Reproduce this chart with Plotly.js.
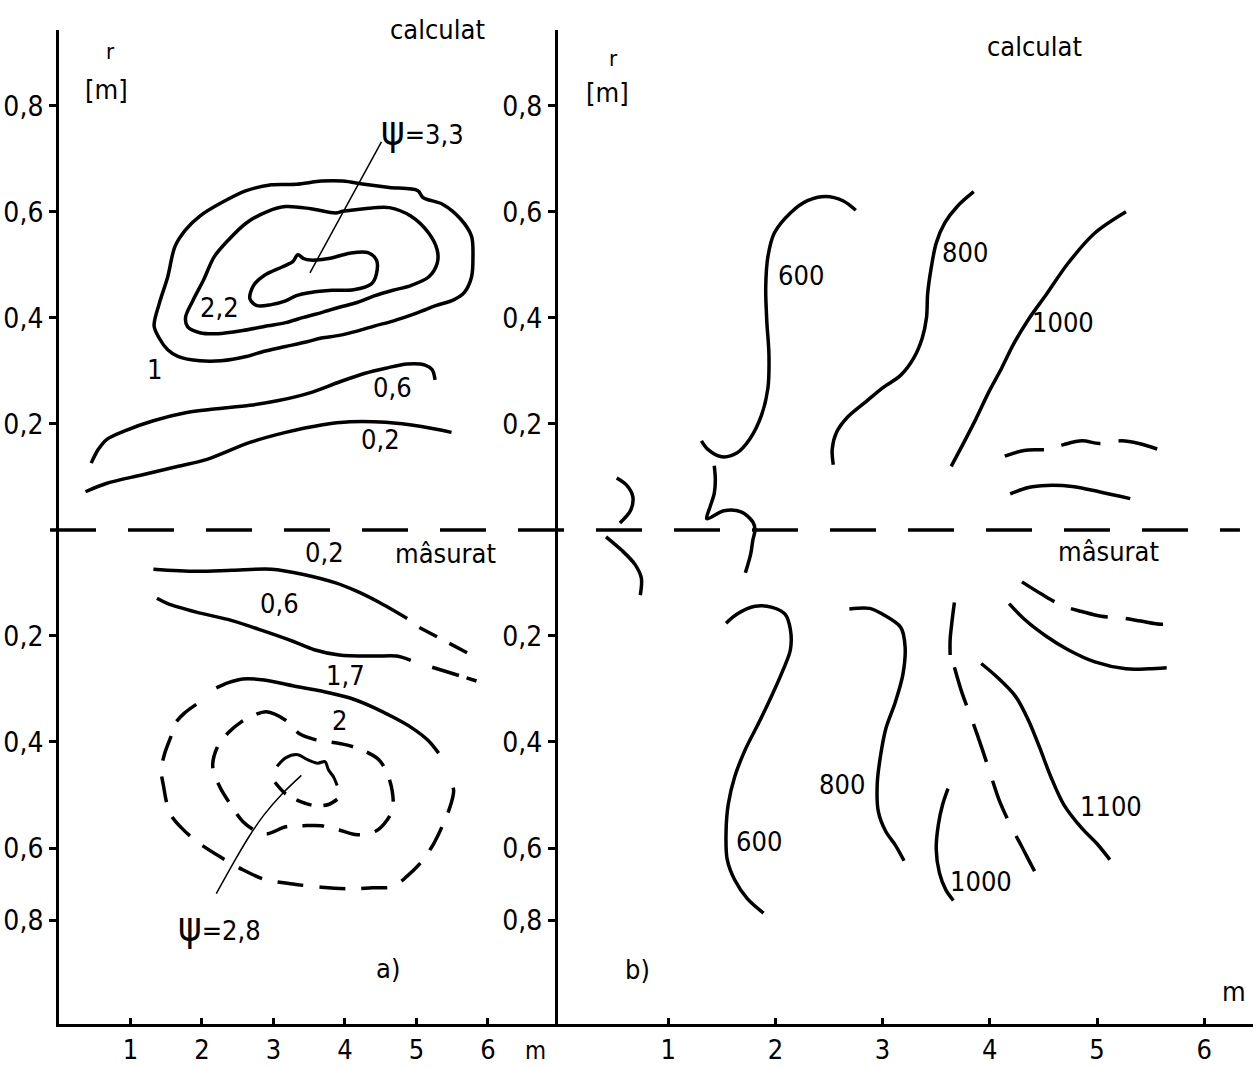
<!DOCTYPE html>
<html><head><meta charset="utf-8">
<script src="https://cdn.plot.ly/plotly-3.0.1.min.js"></script>
<style>html,body{margin:0;padding:0;background:#fff}</style>
</head><body><div id="chart" style="width:1253px;height:1068px"></div>
<script>
// ---------- axis ticks ----------
const rTickVals = [0.8, 0.6, 0.4, 0.2, -0.2, -0.4, -0.6, -0.736];
const rTickText = ['0,8', '0,6', '0,4', '0,2', '0,2', '0,4', '0,6', '0,8'];
const xTickVals = [1, 2, 3, 4, 5, 6];
const xTickText = ['1', '2', '3', '4', '5', '6'];

// ---------- panel a) calculat (r > 0) ----------
const aCalc1X = [1.33,1.40,1.52,1.62,1.77,1.97,2.27,2.62,2.97,3.32,3.67,3.97,4.27,4.62,5.02,5.09,5.37,5.62,5.77,5.79,5.77,5.67,5.52,5.27,5.02,4.67,4.42,4.17,3.92,3.67,3.47,3.17,2.87,2.62,2.27,1.97,1.67,1.52,1.40,1.33];
const aCalc1R = [0.385,0.426,0.477,0.534,0.566,0.592,0.617,0.640,0.651,0.652,0.658,0.658,0.652,0.646,0.640,0.627,0.614,0.586,0.554,0.515,0.477,0.448,0.434,0.423,0.410,0.394,0.385,0.375,0.367,0.362,0.355,0.346,0.337,0.327,0.319,0.319,0.327,0.340,0.362,0.385];
const aCalc22X = [1.77,1.87,2.02,2.17,2.37,2.62,2.92,3.17,3.52,3.87,3.97,4.27,4.62,4.92,5.17,5.29,5.29,5.17,4.92,4.67,4.42,4.17,3.92,3.67,3.42,3.17,2.92,2.57,2.22,1.97,1.80,1.77];
const aCalc22R = [0.401,0.432,0.471,0.515,0.547,0.579,0.601,0.610,0.606,0.598,0.601,0.606,0.608,0.592,0.560,0.528,0.503,0.477,0.461,0.452,0.442,0.429,0.420,0.410,0.401,0.391,0.385,0.376,0.370,0.372,0.383,0.401];
const aCalc33X = [2.67,2.72,2.87,3.12,3.27,3.34,3.42,3.52,3.77,4.07,4.32,4.44,4.44,4.37,4.12,3.82,3.52,3.32,3.17,2.97,2.77,2.67];
const aCalc33R = [0.436,0.461,0.480,0.496,0.506,0.519,0.512,0.509,0.512,0.522,0.523,0.509,0.483,0.464,0.453,0.452,0.448,0.442,0.432,0.425,0.423,0.436];
const aLeader33X = [3.51, 4.51];
const aLeader33R = [0.485, 0.732];
const aCalc06X = [0.45,0.55,0.67,0.92,1.32,1.77,2.17,2.67,3.07,3.52,3.92,4.27,4.57,4.87,5.12,5.22,5.26];
const aCalc06R = [0.126,0.152,0.171,0.187,0.206,0.221,0.228,0.235,0.244,0.259,0.279,0.295,0.305,0.313,0.311,0.302,0.283];
const aCalc02X = [0.37,0.67,1.17,1.67,2.07,2.67,3.17,3.67,4.07,4.57,5.07,5.49];
const aCalc02R = [0.072,0.088,0.104,0.120,0.133,0.165,0.184,0.198,0.204,0.203,0.195,0.184];

// ---------- panel a) măsurat (r < 0 drawn downward) ----------
const aMeas02X = [1.32,1.92,2.42,2.97,3.42,3.87,4.17,4.47,4.87];
const aMeas02R = [-0.074,-0.078,-0.076,-0.074,-0.084,-0.100,-0.116,-0.136,-0.167];
const aMeas02DashX = [5.04, 5.84];
const aMeas02DashR = [-0.184, -0.241];
const aMeas06X = [1.37,1.52,1.92,2.42,2.87,3.27,3.57,3.92,4.42,4.72,4.92];
const aMeas06R = [-0.129,-0.139,-0.155,-0.171,-0.191,-0.210,-0.226,-0.236,-0.238,-0.238,-0.246];
const aMeas06DashX = [5.22, 5.84];
const aMeas06DashR = [-0.259, -0.285];
const aMeas2X = [2.20,2.37,2.57,2.87,3.27,3.67,4.07,4.42,4.67,4.92,5.17,5.31];
const aMeas2R = [-0.298,-0.288,-0.281,-0.283,-0.294,-0.304,-0.317,-0.336,-0.353,-0.372,-0.398,-0.421];
const aMeasOuterX = [1.92,1.75,1.62,1.57,1.48,1.43,1.46,1.55,1.72,1.97,2.27,2.57,2.87,3.27,3.67,4.07,4.39,4.67,4.87,5.07,5.24,5.37,5.48,5.52,5.48];
const aMeasOuterR = [-0.329,-0.346,-0.366,-0.388,-0.421,-0.453,-0.482,-0.534,-0.563,-0.592,-0.618,-0.641,-0.659,-0.668,-0.674,-0.677,-0.675,-0.673,-0.653,-0.626,-0.592,-0.556,-0.518,-0.492,-0.472];
const aMeasMidX = [2.67,2.90,3.17,3.37,3.57,3.97,4.22,4.47,4.59,4.66,4.67,4.59,4.42,4.17,3.92,3.67,3.42,3.17,2.92,2.77,2.57,2.40,2.25,2.15,2.22,2.37,2.55,2.67];
const aMeasMidR = [-0.353,-0.343,-0.359,-0.385,-0.395,-0.404,-0.414,-0.433,-0.459,-0.492,-0.524,-0.547,-0.569,-0.575,-0.566,-0.558,-0.558,-0.560,-0.573,-0.569,-0.550,-0.518,-0.485,-0.446,-0.408,-0.382,-0.362,-0.353];
const aMeas28TopX = [3.05,3.17,3.34,3.47,3.62,3.72,3.77,3.84,3.89];
const aMeas28TopR = [-0.446,-0.430,-0.424,-0.433,-0.440,-0.437,-0.453,-0.466,-0.482];
const aMeas28BotX = [3.02,3.17,3.37,3.57,3.77,3.94];
const aMeas28BotR = [-0.476,-0.498,-0.512,-0.520,-0.518,-0.503];
const aLeader28X = [3.39,3.12,2.87,2.67,2.47,2.20];
const aLeader28R = [-0.463,-0.498,-0.537,-0.576,-0.621,-0.686];

// ---------- panel b) calculat ----------
const b600cX = [1.31,1.37,1.50,1.64,1.76,1.87,1.93,1.94,1.92,1.91,1.93,1.99,2.14,2.30,2.47,2.63,2.75];
const b600cR = [0.168,0.152,0.138,0.145,0.171,0.216,0.267,0.330,0.394,0.458,0.515,0.560,0.598,0.621,0.629,0.621,0.603];
const b800cX = [2.54,2.53,2.57,2.67,2.84,3.00,3.17,3.29,3.37,3.41,3.42,3.45,3.50,3.58,3.70,3.85];
const b800cR = [0.123,0.152,0.184,0.212,0.241,0.268,0.292,0.324,0.362,0.401,0.445,0.490,0.541,0.579,0.611,0.638];
const b1000cX = [3.64,3.74,3.87,3.99,4.11,4.22,4.36,4.53,4.73,4.98,5.27];
const b1000cR = [0.120,0.158,0.209,0.260,0.305,0.350,0.397,0.445,0.503,0.560,0.600];
const bDashTopX = [4.14,4.32,4.55,4.69,4.86,5.02,5.23,5.39,5.57];
const bDashTopR = [0.139,0.150,0.152,0.161,0.168,0.163,0.168,0.163,0.152];
const bSolidTopX = [4.19,4.36,4.53,4.77,5.02,5.31];
const bSolidTopR = [0.068,0.080,0.084,0.082,0.072,0.059];
const bArcUpX = [0.52,0.61,0.67,0.65,0.55];
const bArcUpR = [0.098,0.085,0.063,0.037,0.013];
const bHookX = [1.43,1.44,1.43,1.39,1.36,1.52,1.68,1.79,1.81,1.79,1.77,1.72];
const bHookR = [0.121,0.094,0.069,0.043,0.021,0.036,0.034,0.015,0.000,-0.019,-0.045,-0.081];

// ---------- panel b) măsurat ----------
const bArcLowX = [0.42,0.57,0.69,0.75,0.74];
const bArcLowR = [-0.013,-0.039,-0.065,-0.091,-0.123];
const b600mX = [1.54,1.64,1.81,1.97,2.09,2.14,2.14,2.07,1.97,1.85,1.72,1.62,1.56,1.54,1.55,1.62,1.74,1.89];
const b600mR = [-0.176,-0.159,-0.144,-0.146,-0.159,-0.188,-0.226,-0.265,-0.311,-0.362,-0.414,-0.466,-0.518,-0.569,-0.621,-0.660,-0.696,-0.723];
const b800mX = [2.69,2.88,3.00,3.17,3.21,3.19,3.12,3.03,2.98,2.95,2.96,3.03,3.12,3.20];
const b800mR = [-0.149,-0.148,-0.159,-0.184,-0.220,-0.272,-0.324,-0.375,-0.427,-0.479,-0.531,-0.569,-0.595,-0.624];
const b1000mX = [3.61,3.56,3.52,3.50,3.53,3.59,3.66];
const b1000mR = [-0.488,-0.518,-0.556,-0.602,-0.647,-0.679,-0.699];
const bVertX = [3.67,3.65,3.63,3.63];
const bVertR = [-0.137,-0.168,-0.207,-0.236];
const bDashLongX = [3.67,3.74,3.83,3.93,4.01,4.09,4.20,4.30,4.40,4.47];
const bDashLongR = [-0.259,-0.307,-0.356,-0.414,-0.463,-0.511,-0.560,-0.598,-0.637,-0.663];
const b1100mX = [3.92,4.07,4.24,4.36,4.46,4.57,4.69,4.86,5.00,5.12];
const b1100mR = [-0.252,-0.278,-0.314,-0.359,-0.408,-0.466,-0.518,-0.563,-0.592,-0.622];
const bSolidRX = [4.18,4.32,4.53,4.73,4.98,5.27,5.48,5.65];
const bSolidRR = [-0.139,-0.168,-0.201,-0.226,-0.249,-0.262,-0.262,-0.260];
const bDashRX = [4.30,4.49,4.69,4.86,5.04,5.23,5.41,5.60,5.76];
const bDashRR = [-0.098,-0.122,-0.144,-0.154,-0.163,-0.166,-0.172,-0.178,-0.173];

// ---------- labels (inside the axis ranges) ----------
const labelsA = ['r','[m]','<span style="font-size:40px">ψ</span>=3,3','2,2','1','0,6','0,2',
                 'mâsurat','0,2','0,6','1,7','2','<span style="font-size:40px">ψ</span>=2,8','a)'];
const labelsAX = [0.72,0.67,5.08,2.25,1.34,4.66,4.50, 5.40,3.72,3.08,4.01,3.93,2.25,4.60];
const labelsAR = [0.902,0.83,0.755,0.419,0.302,0.268,0.170, -0.045,-0.043,-0.138,-0.274,-0.359,-0.748,-0.828];
const labelsB = ['calculat','r','[m]','600','800','1000','mâsurat','600','800','1000','1100','b)','m'];
const labelsBX = [4.42,0.49,0.43,2.24,3.77,4.68,5.11,1.85,2.62,3.92,5.13,0.71,6.28];
const labelsBR = [0.911,0.890,0.826,0.479,0.523,0.392,-0.040,-0.587,-0.481,-0.664,-0.521,-0.830,-0.870];
// labels of panel a) lying beyond the r range (placed on the page height)
const labelsAEdge = ['calculat', 'm'];
const labelsAEdgeX = [5.29, 6.67];
const labelsAEdgeY = [0.9728, 0.0005];

// ---------- build ----------
const FONT = "'DejaVu Sans Condensed', 'DejaVu Sans', sans-serif";
const traces = [];
function add(x, r, panel, opts) {
  opts = opts || {};
  traces.push({
    x: x, y: r, type: 'scatter', mode: 'lines',
    xaxis: panel === 'a' ? 'x' : 'x2', yaxis: panel === 'a' ? 'y' : 'y2',
    line: {color: '#000', width: opts.width || 3.5, dash: opts.dash || 'solid',
           shape: opts.linear ? 'linear' : 'spline', smoothing: 0.9},
    hoverinfo: 'skip', showlegend: false
  });
}
add(aCalc1X, aCalc1R, 'a');
add(aCalc22X, aCalc22R, 'a');
add(aCalc33X, aCalc33R, 'a');
add(aLeader33X, aLeader33R, 'a', {width: 1.5, linear: true});
add(aCalc06X, aCalc06R, 'a');
add(aCalc02X, aCalc02R, 'a');
add(aMeas02X, aMeas02R, 'a');
add(aMeas02DashX, aMeas02DashR, 'a', {dash: '20px,14px', linear: true});
add(aMeas06X, aMeas06R, 'a');
add(aMeas06DashX, aMeas06DashR, 'a', {dash: '28px,8px', linear: true});
add(aMeas2X, aMeas2R, 'a');
add(aMeasOuterX, aMeasOuterR, 'a', {dash: '26px,16px'});
add(aMeasMidX, aMeasMidR, 'a', {dash: '22px,15px'});
add(aMeas28TopX, aMeas28TopR, 'a', {width: 3});
add(aMeas28BotX, aMeas28BotR, 'a', {dash: '16px,12px'});
add(aLeader28X, aLeader28R, 'a', {width: 1.5});

add(b600cX, b600cR, 'b');
add(b800cX, b800cR, 'b');
add(b1000cX, b1000cR, 'b');
add(bDashTopX, bDashTopR, 'b', {dash: '40px,18px'});
add(bSolidTopX, bSolidTopR, 'b');
add(bArcUpX, bArcUpR, 'b');
add(bHookX, bHookR, 'b');
add(bArcLowX, bArcLowR, 'b');
add(b600mX, b600mR, 'b');
add(b800mX, b800mR, 'b');
add(b1000mX, b1000mR, 'b');
add(bVertX, bVertR, 'b');
add(bDashLongX, bDashLongR, 'b', {dash: '40px,20px'});
add(b1100mX, b1100mR, 'b');
add(bSolidRX, bSolidRR, 'b');
add(bDashRX, bDashRR, 'b', {dash: '38px,18px'});

const annotations = [];
function fontFor(t) { return {family: FONT, size: (t === 'r') ? 22 : 27, color: '#000'}; }
labelsA.forEach((t, i) => annotations.push({text: t, x: labelsAX[i], y: labelsAR[i], xref: 'x', yref: 'y',
  showarrow: false, xanchor: 'center', yanchor: 'middle', font: fontFor(t)}));
labelsB.forEach((t, i) => annotations.push({text: t, x: labelsBX[i], y: labelsBR[i], xref: 'x2', yref: 'y2',
  showarrow: false, xanchor: 'center', yanchor: 'middle', font: fontFor(t)}));
labelsAEdge.forEach((t, i) => annotations.push({text: t, x: labelsAEdgeX[i], y: labelsAEdgeY[i], xref: 'x', yref: 'paper',
  showarrow: false, xanchor: 'center', yanchor: (t === 'm') ? 'bottom' : 'middle',
  font: {family: FONT, size: (t === 'm') ? 24 : 27, color: '#000'}}));

const yDom = [0.0412, 0.9719];
const yRange = [-0.932, 0.943];
const xAxisCommon = {
  showgrid: false, zeroline: false, showline: true, linecolor: '#000', linewidth: 3,
  ticks: 'inside', ticklen: 6, tickwidth: 3, tickcolor: '#000',
  tickmode: 'array', tickvals: xTickVals, ticktext: xTickText,
  tickfont: {family: FONT, size: 27, color: '#000'}, fixedrange: true
};
const yAxisCommon = {
  domain: yDom, range: yRange,
  showgrid: false, zeroline: false, showline: true, linecolor: '#000', linewidth: 3,
  ticks: 'outside', ticklen: 7, tickwidth: 3, tickcolor: '#000',
  tickmode: 'array', tickvals: rTickVals, ticktext: rTickText,
  tickfont: {family: FONT, size: 28, color: '#000'}, fixedrange: true
};

const layout = {
  width: 1253, height: 1068, autosize: false,
  margin: {l: 0, r: 0, t: 0, b: 0, pad: 0},
  paper_bgcolor: '#fff', plot_bgcolor: 'rgba(0,0,0,0)',
  showlegend: false, hovermode: false,
  xaxis: Object.assign({}, xAxisCommon, {domain: [0.0471, 0.4453], range: [0, 6.979], anchor: 'y'}),
  xaxis2: Object.assign({}, xAxisCommon, {domain: [0.4453, 1], range: [-0.028, 6.455], anchor: 'y2'}),
  yaxis: Object.assign({}, yAxisCommon, {anchor: 'x'}),
  yaxis2: Object.assign({}, yAxisCommon, {anchor: 'x2'}),
  shapes: [{type: 'line', xref: 'paper', yref: 'y', x0: 0.0399, x1: 0.9896, y0: 0, y1: 0,
            line: {color: '#000', width: 3.5, dash: '46px,32px'}}],
  annotations: annotations
};

Plotly.newPlot('chart', traces, layout, {staticPlot: true, displayModeBar: false});
</script></body></html>
